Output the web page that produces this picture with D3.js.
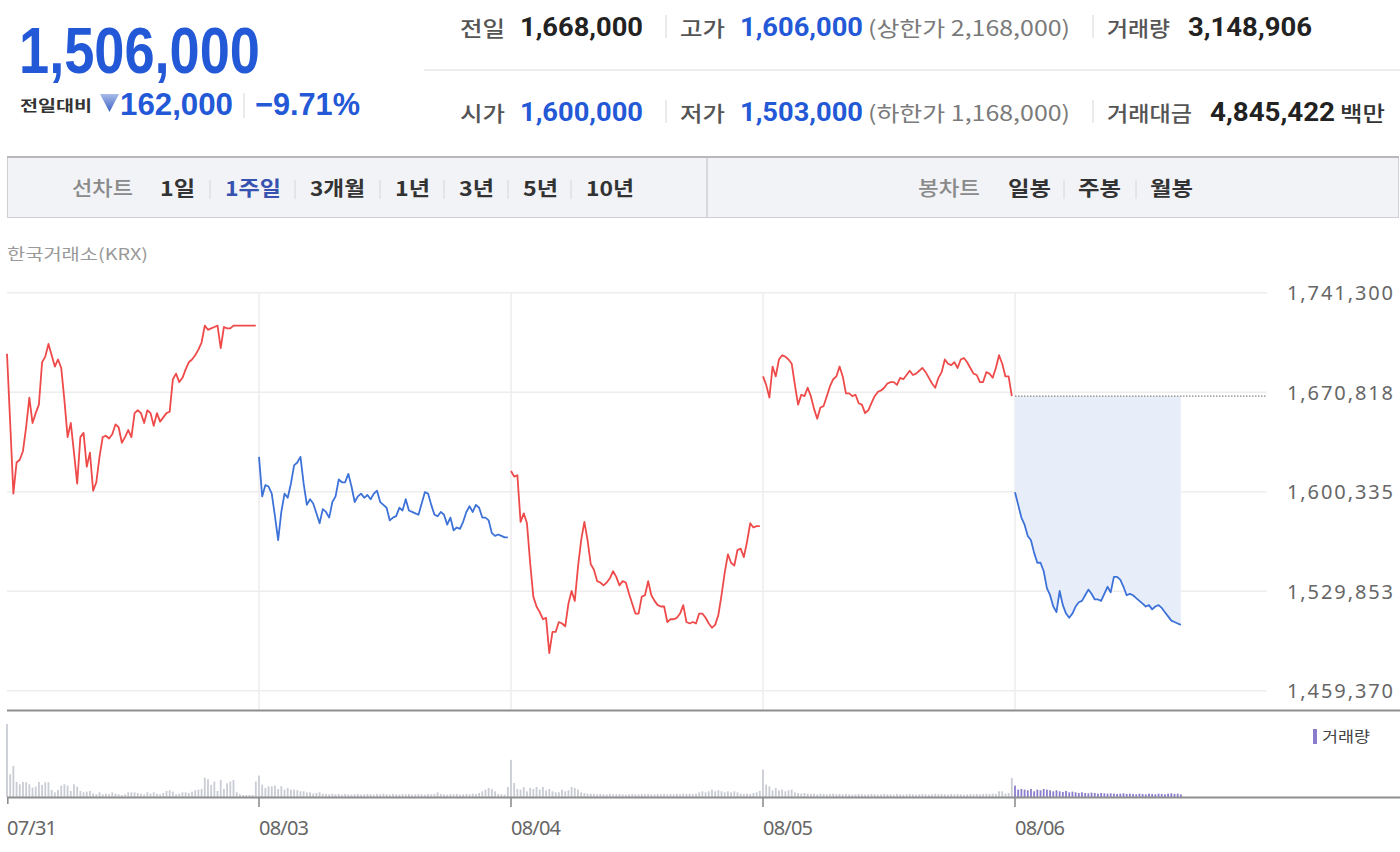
<!DOCTYPE html>
<html>
<head>
<meta charset="utf-8">
<script src="https://cdn.jsdelivr.net/npm/d3@7"></script>
<style>
  body { margin: 0; background: #fff; }
  svg { display: block; }
</style>
</head>
<body>
<div id="chart"></div>
<script>
// ---- data (prices in 1,000 won, 5-minute points, last point of a day = close) ----
var dayLabels = ["07/31", "08/03", "08/04", "08/05", "08/06"];
var dayDirection = ["up", "down", "up", "up", "down"];

var price0731 = [1698,1649,1599,1621,1623,1629,1646,1667,1649,1656,1662,1692,1696,1705,1697,1689,1694,1688,1665,1639,
                 1649,1628,1606,1639,1642,1618,1628,1601,1607,1625,1639,1640,1638,1641,1648,1646,1635,1639,1644,1639,
                 1656,1658,1656,1649,1658,1656,1647,1656,1650,1653,1656,1657,1680,1684,1678,1681,1687,1692,1694,1697,
                 1701,1706,1718,1715,1716,1717,1718,1702,1717,1716,1716,1718,1718,1718,1718,1718,1718,1718,1718];
var price0803 = [1625,1597,1605,1604,1599,1583,1566,1586,1599,1596,1606,1619,1621,1625,1606,1591,1595,1592,1585,1578,
                 1588,1586,1582,1593,1597,1609,1607,1607,1613,1604,1593,1597,1599,1596,1598,1595,1599,1601,1593,1591,
                 1589,1580,1582,1583,1589,1587,1595,1587,1586,1585,1584,1592,1600,1599,1591,1584,1583,1586,1584,1577,
                 1582,1573,1575,1574,1579,1586,1590,1586,1591,1589,1582,1582,1580,1571,1569,1570,1569,1568,1568];
var price0804 = [1615,1611,1612,1579,1585,1578,1550,1526,1519,1515,1510,1511,1486,1501,1501,1508,1507,1505,1521,1530,
                 1523,1547,1566,1579,1566,1549,1545,1537,1536,1534,1536,1539,1544,1540,1534,1537,1536,1528,1521,1514,
                 1514,1526,1527,1537,1527,1523,1520,1519,1519,1508,1510,1510,1511,1514,1520,1508,1507,1508,1507,1514,
                 1514,1511,1507,1504,1506,1513,1527,1543,1556,1550,1548,1559,1560,1554,1565,1578,1575,1576,1576];
var price0805 = [1682,1676,1667,1689,1682,1694,1697,1696,1694,1691,1676,1662,1669,1668,1674,1668,1659,1652,1660,1661,
                 1668,1675,1680,1682,1689,1682,1670,1670,1668,1669,1663,1662,1656,1658,1663,1668,1671,1672,1674,1677,
                 1678,1678,1676,1681,1680,1683,1686,1683,1684,1686,1688,1685,1681,1677,1674,1681,1685,1694,1691,1690,
                 1692,1688,1694,1695,1692,1688,1684,1683,1678,1678,1685,1684,1681,1688,1697,1691,1682,1682,1668];
var price0806 = [1600,1591,1582,1577,1569,1566,1557,1550,1550,1544,1532,1527,1519,1515,1530,1520,1514,1511,1514,1519,
                 1522,1523,1527,1531,1528,1524,1524,1523,1528,1533,1529,1540,1540,1538,1533,1527,1528,1527,1525,1523,
                 1521,1519,1520,1517,1519,1520,1518,1515,1512,1509,1508,1507,1506];

// volume in 1,000 shares
var vol0731 = [1090,340,465,225,190,225,220,190,140,155,225,180,220,220,105,70,105,170,190,170,
               90,190,155,90,70,80,90,55,40,70,40,50,40,70,50,40,30,40,70,70,
               70,60,50,40,70,50,70,50,40,60,90,100,80,40,50,70,70,60,80,100,
               110,120,290,265,180,230,90,255,120,205,230,255,70,40,30,30,30,30,230];
var vol0803 = [320,185,135,160,160,170,120,160,110,135,110,110,100,85,85,70,70,50,60,70,
               50,45,40,50,40,45,35,45,40,35,40,45,35,40,45,40,35,45,40,50,
               40,35,45,40,35,45,40,45,35,40,45,40,35,45,40,45,70,45,40,35,
               45,40,45,35,40,45,40,50,45,60,85,110,135,120,85,45,40,35,150];
var vol0804 = [555,210,120,110,150,85,135,120,150,110,150,100,120,85,70,70,110,85,100,150,
               135,110,70,60,50,50,45,40,45,40,40,45,40,40,45,40,35,40,45,40,
               40,45,40,45,40,40,45,40,45,40,45,40,45,40,50,45,50,45,50,70,
               85,70,85,110,85,100,85,70,85,70,85,70,50,45,50,45,60,70,90];
var vol0805 = [410,185,160,100,135,100,110,85,100,110,70,60,50,60,50,45,50,40,50,45,
               40,45,50,40,45,40,45,40,35,40,45,40,35,40,45,40,35,40,45,40,
               40,35,45,40,35,40,45,40,35,40,45,40,35,40,50,40,45,40,35,45,
               40,45,40,35,40,45,40,45,40,45,50,45,50,45,85,85,50,60,285];
var vol0806 = [170,110,120,110,100,120,85,110,100,120,110,100,85,100,85,75,90,70,80,70,
               60,70,60,55,65,60,50,60,55,50,55,50,45,50,55,45,50,45,40,50,
               45,40,50,45,40,50,45,40,50,55,45,50,40];

var yTicks = [1459370, 1529853, 1600335, 1670818, 1741300];
var prevClose = 1668000;

var quote = {
  price: "1,506,000", change: "162,000", changePct: "−9.71%",
  prev: "1,668,000", high: "1,606,000", upLimit: "2,168,000", volume: "3,148,906",
  open: "1,600,000", low: "1,503,000", downLimit: "1,168,000", amount: "4,845,422"
};
var lineTabs = ["1일", "1주일", "3개월", "1년", "3년", "5년", "10년"];
var candleTabs = ["일봉", "주봉", "월봉"];

var prices = [price0731, price0803, price0804, price0805, price0806];
var volumes = [vol0731, vol0803, vol0804, vol0805, vol0806];

// ---- layout ----
var width = 1400, height = 852;
var perDay = 79;
var left = 7, plotRight = 1267;
var priceTop = 292.7, priceBottom = 690.7;
var volBase = 797, volTop = 724;

var KR = "'Noto Sans CJK KR', 'Noto Sans', sans-serif";
var NUM = "Roboto, 'Liberation Sans', sans-serif";
var BLUE = "#2358d6";

var svg = d3.select("#chart").append("svg")
  .attr("width", width)
  .attr("height", height);

// ---- header ----
function txt(x, y, s, size, color, weight, family, len) {
  var t = svg.append("text")
    .attr("x", x).attr("y", y)
    .style("font-size", size + "px")
    .style("font-family", family)
    .style("font-weight", weight)
    .style("fill", color)
    .text(s);
  if (len) t.attr("textLength", len).attr("lengthAdjust", "spacingAndGlyphs");
  return t;
}
function sep(x, y1, y2) {
  svg.append("line").attr("x1", x).attr("x2", x).attr("y1", y1).attr("y2", y2)
    .style("stroke", "#d6d6d6").style("stroke-width", 1);
}

txt(19, 73, quote.price, 64, BLUE, 700, "'Liberation Sans', Arial, sans-serif", 241);
txt(20, 111, "전일대비", 15, "#333", 700, KR, 72);

var grad = svg.append("defs").append("linearGradient")
  .attr("id", "tri").attr("x1", 0).attr("y1", 0).attr("x2", 0).attr("y2", 1);
grad.append("stop").attr("offset", "0%").attr("stop-color", "#a9bce8");
grad.append("stop").attr("offset", "100%").attr("stop-color", "#3a62c6");
svg.append("path").attr("d", "M100,94 L119,94 L109.5,112 Z").style("fill", "url(#tri)");

txt(120, 115, quote.change, 31, BLUE, 700, "'Liberation Sans', Arial, sans-serif", 113);
sep(244, 93, 118);
txt(255, 115, quote.changePct, 31, BLUE, 700, "'Liberation Sans', Arial, sans-serif", 105);

svg.append("line").attr("x1", 424).attr("x2", 1400).attr("y1", 70).attr("y2", 70)
  .style("stroke", "#e6e6e6").style("stroke-width", 1.5);

var rows = [
  {y: 36, a: "전일", av: quote.prev, ac: "#222", b: "고가", bv: quote.high, bl: "상한가 " + quote.upLimit,
   c: "거래량", cv: quote.volume, cx: 1188, cw: 124, lw: 63},
  {y: 121, a: "시가", av: quote.open, ac: BLUE, b: "저가", bv: quote.low, bl: "하한가 " + quote.downLimit,
   c: "거래대금", cv: quote.amount, cx: 1210, cw: 125, lw: 85}
];
rows.forEach(function(r) {
  txt(460, r.y, r.a, 21, "#555", 500, KR, 45);
  txt(520, r.y, r.av, 25, r.ac, 700, NUM, 123);
  sep(666, r.y - 21, r.y + 2);
  txt(680, r.y, r.b, 21, "#555", 500, KR, 45);
  txt(740, r.y, r.bv, 25, BLUE, 700, NUM, 123);
  txt(868, r.y, "(" + r.bl + ")", 21, "#7a7a7a", 400, KR, 202);
  sep(1093, r.y - 21, r.y + 2);
  txt(1107, r.y, r.c, 21, "#555", 500, KR, r.lw);
  txt(r.cx, r.y, r.cv, 25, "#222", 700, NUM, r.cw);
});
txt(1340, 121, "백만", 21, "#333", 500, KR, 45);

// ---- tab bar ----
svg.append("rect").attr("x", 7.5).attr("y", 157.5).attr("width", 1391).attr("height", 60)
  .style("fill", "#f2f3f7").style("stroke", "#cfcfd3").style("stroke-width", 1);
svg.append("line").attr("x1", 7).attr("x2", 1399).attr("y1", 157).attr("y2", 157)
  .style("stroke", "#b9b9bd").style("stroke-width", 2);
svg.append("line").attr("x1", 707).attr("x2", 707).attr("y1", 158).attr("y2", 217)
  .style("stroke", "#cfcfd3").style("stroke-width", 1.5);

txt(72, 196, "선차트", 20, "#8a8a8a", 500, KR, 61);
var lineTabX = [160, 225, 310, 395, 459, 523, 586];
var lineTabW = [35, 56, 55, 35, 35, 35, 48];
lineTabs.forEach(function(t, i) {
  txt(lineTabX[i], 196, t, 20, i === 1 ? "#3852b0" : "#333", 700, KR, lineTabW[i]);
  if (i > 0) sep(lineTabX[i] - 15, 180, 199);
});
txt(918, 196, "봉차트", 20, "#8a8a8a", 500, KR, 62);
var candleTabX = [1008, 1078, 1150];
candleTabs.forEach(function(t, i) {
  txt(candleTabX[i], 196, t, 20, "#333", 700, KR, 43);
  if (i > 0) sep(candleTabX[i] - 14, 180, 199);
});

txt(7, 260, "한국거래소(KRX)", 16, "#999", 400, KR, 141);

// ---- scales ----
var x = d3.scaleLinear().domain([0, 5 * perDay]).range([left, plotRight]);
var y = d3.scaleLinear().domain([yTicks[0], yTicks[yTicks.length - 1]]).range([priceBottom, priceTop]);
var vmax = d3.max(volumes, function(v) { return d3.max(v); });
var yv = d3.scaleLinear().domain([0, vmax]).range([volBase, volTop]);

// grid
svg.append("g").selectAll("line").data(yTicks).enter().append("line")
  .attr("x1", left).attr("x2", plotRight)
  .attr("y1", function(d) { return y(d); }).attr("y2", function(d) { return y(d); })
  .style("stroke", "#ededed").style("stroke-width", 1.5);
svg.append("g").selectAll("line").data(dayLabels.slice(1)).enter().append("line")
  .attr("x1", function(d, i) { return x((i + 1) * perDay); })
  .attr("x2", function(d, i) { return x((i + 1) * perDay); })
  .attr("y1", priceTop).attr("y2", 710)
  .style("stroke", "#ededed").style("stroke-width", 1.5);

// y axis on the right
var yAxis = svg.append("g")
  .attr("transform", "translate(1393,0)")
  .call(d3.axisLeft(y).tickValues(yTicks).tickSize(0).tickFormat(d3.format(",")));
yAxis.select(".domain").remove();
yAxis.selectAll("text")
  .attr("x", 0).attr("dy", "0.35em")
  .attr("textLength", 106).attr("lengthAdjust", "spacing")
  .style("text-anchor", "end")
  .style("font-family", "'Noto Sans', sans-serif")
  .style("font-size", "20px")
  .style("fill", "#666");

// previous close area + dotted line for today
var today = prices.length - 1;
var area = d3.area()
  .x(function(d, i) { return x(today * perDay + i); })
  .y0(y(prevClose))
  .y1(function(d) { return y(d * 1000); });
svg.append("path").datum(prices[today]).attr("d", area).style("fill", "#e7eef9");

svg.append("line")
  .attr("x1", x(today * perDay)).attr("x2", plotRight)
  .attr("y1", y(prevClose)).attr("y2", y(prevClose))
  .style("stroke", "#888").style("stroke-width", 1.2).style("stroke-dasharray", "1.5,1.5");

// price lines
var line = d3.line()
  .x(function(d) { return x(d.g); })
  .y(function(d) { return y(d.p * 1000); });
prices.forEach(function(arr, d) {
  var pts = arr.map(function(p, i) { return {g: d * perDay + i, p: p}; });
  svg.append("path").datum(pts).attr("d", line)
    .style("fill", "none")
    .style("stroke", dayDirection[d] === "up" ? "#ef4a4a" : "#3d72d8")
    .style("stroke-width", 1.8)
    .style("stroke-linejoin", "round");
});

// divider between panels
svg.append("line").attr("x1", left).attr("x2", width).attr("y1", 710.5).attr("y2", 710.5)
  .style("stroke", "#8e8e8e").style("stroke-width", 2);

// volume bars
volumes.forEach(function(arr, d) {
  svg.append("g").selectAll("rect").data(arr).enter().append("rect")
    .attr("x", function(v, i) { return x(d * perDay + i) - 0.9; })
    .attr("width", 1.8)
    .attr("y", function(v) { return yv(v); })
    .attr("height", function(v) { return volBase - yv(v); })
    .style("fill", d === today ? "#8a7ccc" : "#c9ccd4");
});

svg.append("rect").attr("x", 1313).attr("y", 729).attr("width", 4).attr("height", 15).style("fill", "#8a7ccc");
txt(1322, 742, "거래량", 15, "#444", 400, KR, 48);

// x axis
svg.append("line").attr("x1", left).attr("x2", width).attr("y1", volBase + 0.5).attr("y2", volBase + 0.5)
  .style("stroke", "#8e8e8e").style("stroke-width", 1.8);
svg.append("g").selectAll("line").data(dayLabels).enter().append("line")
  .attr("x1", function(d, i) { return x(i * perDay) + (i === 0 ? 0.8 : 0); })
  .attr("x2", function(d, i) { return x(i * perDay) + (i === 0 ? 0.8 : 0); })
  .attr("y1", volBase).attr("y2", function(d, i) { return i === 0 ? 804 : 807; })
  .style("stroke", "#8e8e8e").style("stroke-width", 1.6);
svg.append("g").selectAll("text").data(dayLabels).enter().append("text")
  .attr("x", function(d, i) { return x(i * perDay); })
  .attr("y", 835)
  .attr("textLength", 50).attr("lengthAdjust", "spacing")
  .style("font-family", "'Noto Sans', sans-serif")
  .style("font-size", "20px")
  .style("fill", "#666")
  .text(function(d) { return d; });
</script>
</body>
</html>
